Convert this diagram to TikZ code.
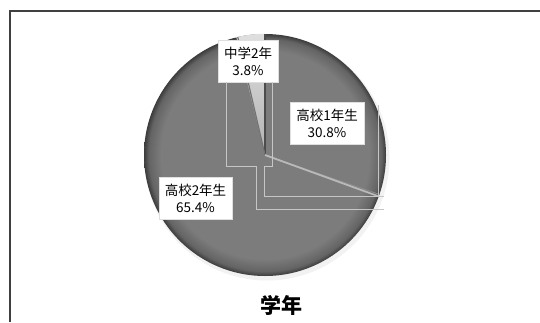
\documentclass[tikz,border=0pt]{standalone}
\usepackage{fontspec}
\newfontfamily\jpfont{Noto Sans CJK JP}
\usetikzlibrary{positioning}
\definecolor{pieface}{RGB}{124,124,124}
\definecolor{pierim}{RGB}{100,100,100}
\definecolor{pieedge}{RGB}{60,60,60}
\pgfdeclareradialshading{piegrey}{\pgfpoint{0bp}{0bp}}{color(0bp)=(pieface); color(21.5bp)=(pieface); color(24bp)=(pierim); color(25bp)=(pieedge); color(50bp)=(pieedge)}
\tikzset{pie/.style={circle,minimum size=242pt,inner sep=0pt},
         datalabel/.style={fill=white,draw=gray!25,align=center,inner xsep=6pt,inner ysep=3pt,minimum height=42pt,
                           font=\jpfont\fontsize{13.5}{17}\selectfont},
         guide/.style={draw=gray!45,line width=0.5pt},
         seam/.style={draw=black!70,line width=1.2pt},
         shine/.style={draw=gray!55,line width=1.8pt},
         frame/.style={draw=black!75,line width=1.5pt}}

\begin{document}
\begin{tikzpicture}[x=1pt,y=1pt]
        \useasboundingbox (0,0) rectangle (540,322);
        \draw[frame](10,0)--(10,311)--(540,311);
        \fill[gray!10](267,164)circle(122.5);
        \node[pie,shade,shading=piegrey](pie)at(265,167){};
        \shade[top color=gray!25,bottom color=gray!60](pie.center)--(pie.90)arc[start angle=90,end angle=103.7,radius=121]--cycle;
        \draw[seam](pie.center)--(pie.90);
        \draw[seam,black!55](pie.center)--(pie.103.7);
        \draw[seam,black!45,line width=0.8pt](pie.center)--(pie.-19.5);
        \draw[shine](pie.center)--(pie.-20.9);
        \node[datalabel](j2)at(248,261){中学2年\\3.8\%};
        \node[datalabel](h1)at(327,198.5){高校1年生\\30.8\%};
        \node[datalabel](h2)at(195.5,124){高校2年生\\65.4\%};
        \draw[guide](226,0 |- j2.south)--(226,156)--(256,156)--(256,113)--(384,113);
        \draw[guide](272,0 |- j2.south)--(272,156)--(264,156)--(264,126)--(384,126);
        \draw[guide](378,217)--(378,126);
        \node[font=\jpfont\bfseries\fontsize{21}{25}\selectfont](title)at(281,17){学年};
    \end{tikzpicture}
\end{document}
